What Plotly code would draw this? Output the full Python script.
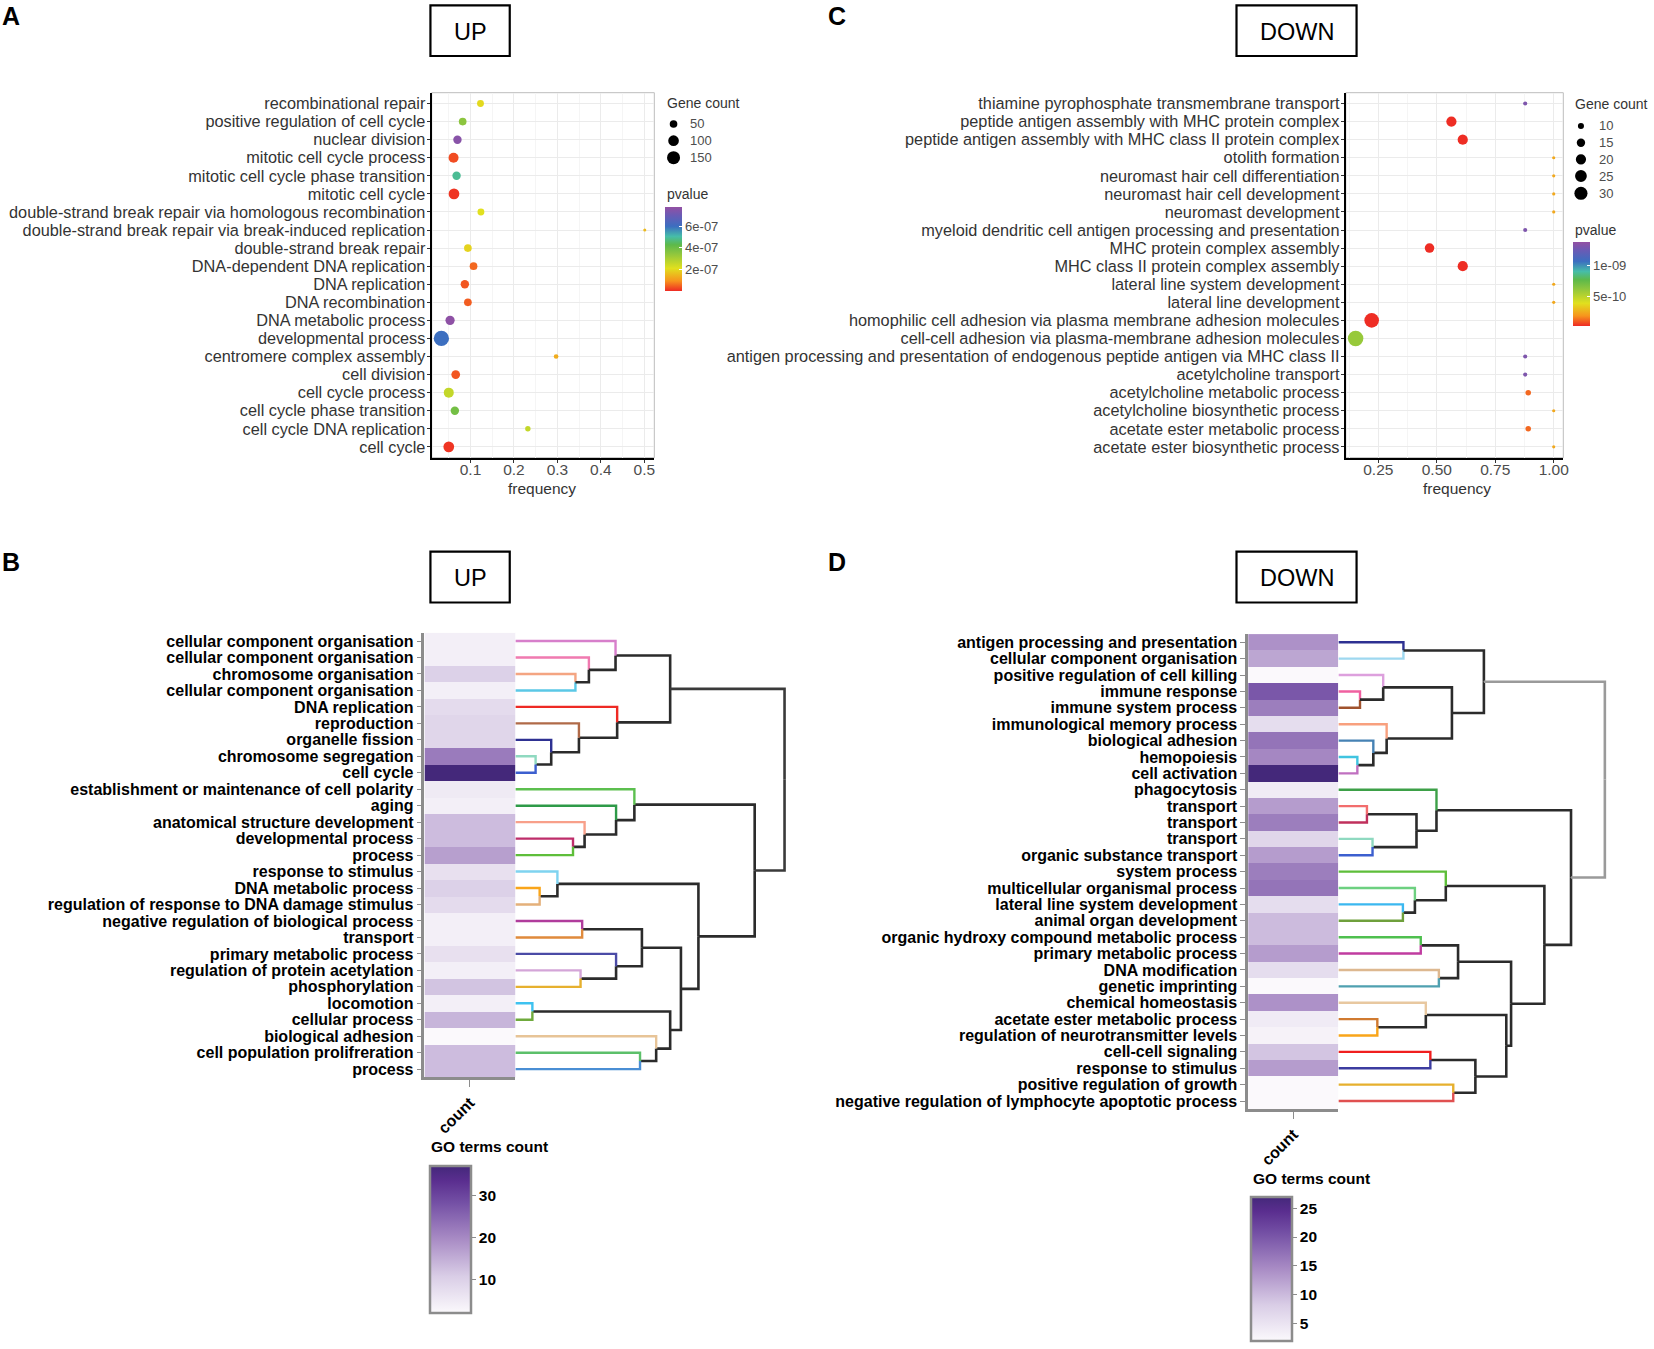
import plotly.graph_objects as go

W, H = 1654, 1349
FONT = "Liberation Sans, Arial, Helvetica, sans-serif"

# ---------------- Panel A : UP dot plot ----------------
up_terms = ["recombinational repair", "positive regulation of cell cycle", "nuclear division",
            "mitotic cell cycle process", "mitotic cell cycle phase transition", "mitotic cell cycle",
            "double-strand break repair via homologous recombination",
            "double-strand break repair via break-induced replication",
            "double-strand break repair", "DNA-dependent DNA replication", "DNA replication",
            "DNA recombination", "DNA metabolic process", "developmental process",
            "centromere complex assembly", "cell division", "cell cycle process",
            "cell cycle phase transition", "cell cycle DNA replication", "cell cycle"]
up_freq = [0.123, 0.082, 0.070, 0.061, 0.068, 0.062, 0.124, 0.501, 0.094, 0.107,
           0.087, 0.094, 0.053, 0.033, 0.297, 0.066, 0.050, 0.064, 0.232, 0.050]
up_count = [40, 51, 61, 88, 61, 101, 40, 6, 51, 51, 61, 51, 74, 208, 17, 66, 88, 61, 24, 101]
up_pvalue = [2.0e-7, 3.5e-7, 7.6e-7, 3e-8, 4.9e-7, 1e-8, 2.1e-7, 1.5e-7, 1.9e-7, 5.5e-8,
             4e-8, 4.5e-8, 7.7e-7, 6.0e-7, 1.3e-7, 4e-8, 2.6e-7, 3.9e-7, 2.6e-7, 1e-8]
up_freq_ticks = [0.1, 0.2, 0.3, 0.4, 0.5]
up_freq_ticktext = ["0.1", "0.2", "0.3", "0.4", "0.5"]
up_size_breaks = [50, 100, 150]
up_p_ticks = [2e-7, 4e-7, 6e-7]
up_p_ticktext = ["2e-07", "4e-07", "6e-07"]

# ---------------- Panel C : DOWN dot plot ----------------
down_terms = ["thiamine pyrophosphate transmembrane transport",
              "peptide antigen assembly with MHC protein complex",
              "peptide antigen assembly with MHC class II protein complex",
              "otolith formation", "neuromast hair cell differentiation",
              "neuromast hair cell development", "neuromast development",
              "myeloid dendritic cell antigen processing and presentation",
              "MHC protein complex assembly", "MHC class II protein complex assembly",
              "lateral line system development", "lateral line development",
              "homophilic cell adhesion via plasma membrane adhesion molecules",
              "cell-cell adhesion via plasma-membrane adhesion molecules",
              "antigen processing and presentation of endogenous peptide antigen via MHC class II",
              "acetylcholine transport", "acetylcholine metabolic process",
              "acetylcholine biosynthetic process", "acetate ester metabolic process",
              "acetate ester biosynthetic process"]
down_freq = [0.878, 0.5625, 0.611, 1.0, 1.0, 1.0, 1.0, 0.878, 0.469, 0.611,
             1.0, 1.0, 0.2216, 0.153, 0.878, 0.878, 0.891, 1.0, 0.891, 1.0]
down_count = [7, 20, 20, 6, 6, 6, 6, 7, 18, 20, 6, 6, 36, 40, 7, 7, 9, 6, 9, 6]
down_pvalue = [1.3e-9, 2e-11, 2e-11, 2.3e-10, 2.3e-10, 2.3e-10, 2.3e-10, 1.3e-9, 2e-11, 2e-11,
               2.3e-10, 2.3e-10, 2e-11, 5.9e-10, 1.3e-9, 1.3e-9, 1.1e-10, 2.3e-10, 1.1e-10, 2.3e-10]
down_freq_ticks = [0.25, 0.50, 0.75, 1.00]
down_freq_ticktext = ["0.25", "0.50", "0.75", "1.00"]
down_size_breaks = [10, 15, 20, 25, 30]
down_p_ticks = [5e-10, 1e-9]
down_p_ticktext = ["5e-10", "1e-09"]

# ---------------- Panel B : UP GO heatmap + dendrogram ----------------
up_go_terms = ["cellular component organisation", "cellular component organisation",
               "chromosome organisation", "cellular component organisation", "DNA replication",
               "reproduction", "organelle fission", "chromosome segregation", "cell cycle",
               "establishment or maintenance of cell polarity", "aging",
               "anatomical structure development", "developmental process", "process",
               "response to stimulus", "DNA metabolic process",
               "regulation of response to DNA damage stimulus",
               "negative regulation of biological process", "transport",
               "primary metabolic process", "regulation of protein acetylation",
               "phosphorylation", "locomotion", "cellular process", "biological adhesion",
               "cell population prolifreration", "process"]
up_go_count = [4, 4, 10, 4, 8, 9, 9, 22, 37, 5, 4, 13, 13, 17, 7, 10, 8, 4, 4, 7, 4, 12, 4, 14, 2, 13, 13]
up_go_ticks = [10, 20, 30]
# merges: (child a, child b, height); leaves 0..26, clusters 27.. in order
up_merges = [(2, 3, 0.223), (1, 27, 0.273), (0, 28, 0.372), (7, 8, 0.075), (6, 30, 0.133),
             (5, 31, 0.236), (4, 32, 0.378), (29, 33, 0.575), (12, 13, 0.214), (11, 35, 0.257),
             (10, 36, 0.374), (9, 37, 0.442), (15, 16, 0.090), (14, 39, 0.156), (17, 18, 0.248),
             (20, 21, 0.242), (19, 42, 0.374), (41, 43, 0.470), (22, 23, 0.063), (25, 26, 0.463),
             (24, 46, 0.523), (45, 47, 0.575), (44, 48, 0.615), (40, 49, 0.680), (38, 50, 0.889),
             (34, 51, 1.0)]
up_leaf_colors = ["#D77FCB", "#F07AB0", "#F4A582", "#5BC8E6", "#EE2A24", "#B06A48", "#2E3192",
                  "#8FD9C0", "#3C5FCF", "#5CBF4F", "#2E9A48", "#F8A08A", "#BE2D6A", "#5EBE3A",
                  "#7FD3F0", "#F9A51A", "#E4B07A", "#B03C9C", "#E08A3C", "#4B4BA6", "#D4A5D8",
                  "#E6B02E", "#3EC2F0", "#6FAA3C", "#E7C497", "#5CC06A", "#4A8ED4"]

# ---------------- Panel D : DOWN GO heatmap + dendrogram ----------------
down_go_terms = ["antigen processing and presentation", "cellular component organisation",
                 "positive regulation of cell killing", "immune response", "immune system process",
                 "immunological memory process", "biological adhesion", "hemopoiesis",
                 "cell activation", "phagocytosis", "transport", "transport", "transport",
                 "organic substance transport", "system process", "multicellular organismal process",
                 "lateral line system development", "animal organ development",
                 "organic hydroxy compound metabolic process", "primary metabolic process",
                 "DNA modification", "genetic imprinting", "chemical homeostasis",
                 "acetate ester metabolic process", "regulation of neurotransmitter levels",
                 "cell-cell signaling", "response to stimulus", "positive regulation of growth",
                 "negative regulation of lymphocyte apoptotic process"]
down_go_count = [14, 12, 2, 20, 16, 6, 17, 15, 27, 4, 13, 16, 7, 13, 16, 17, 6, 10, 10, 13,
                 6, 2, 14, 4, 3, 9, 13, 2, 2]
down_go_ticks = [5, 10, 15, 20, 25]
down_merges = [(0, 1, 0.244), (3, 4, 0.081), (2, 30, 0.168), (7, 8, 0.071), (6, 32, 0.131),
               (5, 33, 0.181), (31, 34, 0.426), (29, 35, 0.546), (10, 11, 0.107), (12, 13, 0.128),
               (37, 38, 0.293), (9, 39, 0.368), (16, 17, 0.242), (15, 41, 0.287), (14, 42, 0.403),
               (18, 19, 0.309), (20, 21, 0.377), (44, 45, 0.449), (23, 24, 0.146), (22, 47, 0.328),
               (25, 26, 0.345), (27, 28, 0.431), (49, 50, 0.514), (48, 51, 0.630), (46, 52, 0.648),
               (43, 53, 0.773), (40, 54, 0.873), (36, 55, 1.0)]
down_leaf_colors = ["#2E3192", "#9ED8F0", "#DDA0DD", "#F060A0", "#A0522D", "#F8A07E", "#4682B4",
                    "#40C4E0", "#C070C0", "#3DA048", "#F26D6D", "#C0305C", "#8FD9C0", "#3C5FCF",
                    "#5EBE3A", "#6DD080", "#3BB8F0", "#6FA03C", "#4FC04F", "#C03CA0", "#DDB890",
                    "#4FA0B0", "#E8C8A0", "#D07A30", "#F9A51A", "#F01E1E", "#3C3CA0", "#E6B02E",
                    "#E05050"]

# ---------------- styles ----------------
pv_scale = [[0, "#EE2A24"], [0.12, "#F7941D"], [0.27, "#E1E01E"], [0.45, "#8BC53F"],
            [0.55, "#5DB94A"], [0.65, "#46BDA9"], [0.77, "#3C6EC0"], [0.9, "#6A5BB5"], [1, "#9350A3"]]
heat_scale = [[0, "#FBF9FC"], [0.25, "#D9CDE6"], [0.5, "#A98CC5"], [0.75, "#7450A5"],
              [0.9, "#5A2E8F"], [1, "#44287A"]]


def px_x(x):
    return x / W


def px_y(y):
    return 1 - y / H


def size_up(c):
    return 1.15 * (0.84 * c + 2) ** 0.5


def size_down(c):
    return 1.15 * max(5.1 * c - 23, 6.5) ** 0.5


fig = go.Figure()
shapes = []
annotations = []


def ann(x, y, text, size=15, color="#333333", xanchor="center", yanchor="middle", **kw):
    annotations.append(dict(x=px_x(x), y=px_y(y), xref="paper", yref="paper", text=text,
                            showarrow=False, xanchor=xanchor, yanchor=yanchor,
                            font=dict(family=FONT, size=size, color=color), **kw))


# ---- dot plots ----
def dot_panel(axn, terms, freq, count, pval, sizefn, cmin, cmax, cbx, cby, cblen, pticks, ptext):
    n = len(terms)
    fig.add_trace(go.Scatter(
        x=freq, y=list(range(n)), mode="markers", xaxis="x" + axn, yaxis="y" + axn,
        marker=dict(size=[sizefn(c) for c in count], color=pval, colorscale=pv_scale,
                    cmin=cmin, cmax=cmax, line=dict(width=0), opacity=1,
                    colorbar=dict(x=px_x(cbx), xanchor="left", xpad=0, ypad=0,
                                  y=px_y(cby), yanchor="middle", len=cblen, lenmode="pixels",
                                  thickness=16.7, thicknessmode="pixels", outlinewidth=0,
                                  tickmode="array", tickvals=pticks, ticktext=ptext,
                                  ticks="inside", ticklen=3, tickcolor="white",
                                  tickfont=dict(family=FONT, size=13, color="#4D4D4D")),
                    showscale=True),
        hoverinfo="skip", showlegend=False))


dot_panel("", up_terms, up_freq, up_count, up_pvalue, size_up, 0, 7.8e-7,
          667.3, 248.7, 84, up_p_ticks, up_p_ticktext)
dot_panel("2", down_terms, down_freq, down_count, down_pvalue, size_down, 1.5e-11, 1.37e-9,
          1579, 284.2, 83.7, down_p_ticks, down_p_ticktext)

dot_y_domain = [px_y(457.7), px_y(92.7)]


def dot_axes(xr, ticks, ticktext, minor_vals, n, xdom):
    xa = dict(domain=xdom, range=xr, tickmode="array", tickvals=ticks, ticktext=ticktext,
              showline=True, linecolor="black", linewidth=2.2, ticks="outside", ticklen=3,
              tickcolor="#333333", tickfont=dict(family=FONT, size=15.5, color="#4D4D4D"),
              ticklabelstandoff=-6,
              showgrid=True, gridcolor="#EBEBEB", gridwidth=1, zeroline=False,
              minor=dict(tickmode="array", tickvals=minor_vals, showgrid=True,
                         gridcolor="#F5F5F5", gridwidth=1, ticks=""))
    ya = dict(domain=dot_y_domain, range=[n - 1 + 0.6, -0.6], tickmode="array",
              tickvals=list(range(n)), showline=True, linecolor="black", linewidth=2.2,
              ticks="outside", ticklen=3, tickcolor="#333333", ticklabelstandoff=-2,
              tickfont=dict(family=FONT, size=16.3, color="#333333"),
              showgrid=True, gridcolor="#EBEBEB", gridwidth=1, zeroline=False)
    return xa, ya


xa1, ya1 = dot_axes([0.0108, 0.523], up_freq_ticks, up_freq_ticktext,
                    [0.05, 0.15, 0.25, 0.35, 0.45], len(up_terms), [px_x(433.3), px_x(656.7)])
ya1["ticktext"] = up_terms
ya1["anchor"] = "x"
xa1["anchor"] = "y"
xa2, ya2 = dot_axes([0.111, 1.041], down_freq_ticks, down_freq_ticktext,
                    [0.125, 0.375, 0.625, 0.875], len(down_terms), [px_x(1350.7), px_x(1569)])
ya2["ticktext"] = down_terms
ya2["anchor"] = "x2"
xa2["anchor"] = "y2"

for axn in ["", "2"]:
    shapes.append(dict(type="rect", xref="x" + axn + " domain", yref="y" + axn + " domain",
                       x0=0, x1=1, y0=0, y1=1, line=dict(color="#BDBDBD", width=1), layer="below"))

ann(544, 488, "frequency", size=15.5)
ann(1462, 488, "frequency", size=15.5)


# size legends
def size_legend(x_title, y_title, cx, ys, breaks, sizefn, label_x, p_title_y):
    ann(x_title, y_title, "Gene count", size=14, xanchor="left")
    for b, yy in zip(breaks, ys):
        r = sizefn(b) / 2
        shapes.append(dict(type="circle", xref="paper", yref="paper", xsizemode="pixel",
                           ysizemode="pixel", xanchor=px_x(cx), yanchor=px_y(yy),
                           x0=-r, x1=r, y0=-r, y1=r, fillcolor="black", line=dict(width=0)))
        ann(label_x, yy, str(b), size=13, color="#4D4D4D", xanchor="left")
    ann(x_title, p_title_y, "pvalue", size=14, xanchor="left")


size_legend(667.3, 103.3, 676, [124, 140.7, 157.7], up_size_breaks, size_up, 690.7, 194.3)
size_legend(1579, 104, 1586.7, [126, 142.7, 159.3, 176, 193.3], down_size_breaks, size_down,
            1603.3, 230)


# ---- heatmaps + dendrograms ----
def dendro_traces(n, merges, leaf_colors, xa, ya, root_color):
    ypos = list(range(n))
    hts = [0.0] * n
    lines = {}
    last = len(merges) - 1
    for k, (a, b, h) in enumerate(merges):
        ym = (ypos[a] + ypos[b]) / 2
        for c in (a, b):
            if c < n:
                key = leaf_colors[c]
            elif k == last:
                key = root_color
            else:
                key = "#2B2B2B"
            xs, ys = lines.setdefault(key, ([], []))
            xs += [hts[c], h, h, None]
            ys += [ypos[c], ypos[c], ym, None]
        ypos.append(ym)
        hts.append(h)
    for key, (xs, ys) in lines.items():
        is_leaf = key in leaf_colors
        fig.add_trace(go.Scatter(x=xs, y=ys, mode="lines", xaxis=xa, yaxis=ya,
                                 line=dict(color=key, width=2.4 if is_leaf else 2.6),
                                 hoverinfo="skip", showlegend=False))


def heat_panel(terms, counts, ticks, xa, ya, xdom, ydom, cbx, cbtop, cblen):
    n = len(terms)
    fig.add_trace(go.Heatmap(
        z=[[v] for v in counts], x=["count"], y=list(range(n)), xaxis=xa, yaxis=ya,
        colorscale=heat_scale, zmin=min(counts), zmax=max(counts), hoverinfo="skip",
        colorbar=dict(x=px_x(cbx), xanchor="left", xpad=0, ypad=0, y=px_y(cbtop), yanchor="top",
                      len=cblen, lenmode="pixels", thickness=41, thicknessmode="pixels",
                      outlinecolor="#8C8C8C", outlinewidth=2.5, tickmode="array",
                      tickvals=ticks, ticktext=["<b>%d</b>" % t for t in ticks],
                      ticks="outside", ticklen=4, tickcolor="#8C8C8C",
                      tickfont=dict(family=FONT, size=15.5, color="black"))))
    xax = dict(domain=xdom, anchor=ya, range=[-0.5, 0.5], type="category",
               showline=True, linecolor="#8C8C8C", linewidth=2.5, ticks="outside", ticklen=7,
               tickcolor="#8C8C8C", tickangle=-45, tickmode="array", tickvals=["count"],
               ticktext=["<b>count</b>"], tickfont=dict(family=FONT, size=16, color="black"),
               showgrid=False, zeroline=False)
    yax = dict(domain=ydom, anchor=xa, range=[n - 0.5, -0.5], tickmode="array",
               tickvals=list(range(n)), ticktext=["<b>%s</b>" % t for t in terms],
               showline=True, linecolor="#8C8C8C", linewidth=2.5, ticks="outside", ticklen=5,
               tickcolor="#8C8C8C", tickfont=dict(family=FONT, size=16, color="black"),
               showgrid=False, zeroline=False)
    return xax, yax


hb_ydom = [px_y(1077.4), px_y(632.8)]
xa3, ya3 = heat_panel(up_go_terms, up_go_count, up_go_ticks, "x3", "y3",
                      [px_x(426), px_x(517.3)], hb_ydom, 431.7, 1165.7, 146.6)
dendro_traces(len(up_go_terms), up_merges, up_leaf_colors, "x4", "y4", "#3A3A3A")
xa4 = dict(domain=[px_x(517.3), px_x(517.3 + 270.1 * 1.02)], range=[0, 1.02], visible=False,
           anchor="y4")
ya4 = dict(domain=hb_ydom, range=[len(up_go_terms) - 0.5, -0.5], visible=False, anchor="x4")

hd_ydom = [px_y(1109.2), px_y(634.1)]
xa5, ya5 = heat_panel(down_go_terms, down_go_count, down_go_ticks, "x5", "y5",
                      [px_x(1252.7), px_x(1343.3)], hd_ydom, 1256, 1196.7, 144)
dendro_traces(len(down_go_terms), down_merges, down_leaf_colors, "x6", "y6", "#9A9A9A")
xa6 = dict(domain=[px_x(1343.3), px_x(1343.3 + 267.4 * 1.02)], range=[0, 1.02], visible=False,
           anchor="y6")
ya6 = dict(domain=hd_ydom, range=[len(down_go_terms) - 0.5, -0.5], visible=False, anchor="x6")

ann(491.7, 1146.7, "<b>GO terms count</b>", size=15.5, color="black")
ann(1256, 1178.3, "<b>GO terms count</b>", size=15.5, color="black", xanchor="left")

# ---- panel letters and title boxes ----
for letter, x, y in [("A", 11, 16), ("C", 840, 16), ("B", 11, 562), ("D", 840, 562)]:
    ann(x, y, "<b>%s</b>" % letter, size=25, color="black")

for label, x0, x1, y0, y1 in [("UP", 432, 511.6, 5.3, 56), ("DOWN", 1241, 1361.5, 5.3, 56),
                              ("UP", 432, 511.6, 551.7, 602.5), ("DOWN", 1241, 1361.5, 551.7, 602.5)]:
    shapes.append(dict(type="rect", xref="paper", yref="paper", x0=px_x(x0), x1=px_x(x1),
                       y0=px_y(y1), y1=px_y(y0), line=dict(color="black", width=2.2)))
    ann((x0 + x1) / 2, (y0 + y1) / 2 + 1, label, size=23.5, color="black")

fig.update_layout(
    width=W, height=H, margin=dict(l=0, r=0, t=0, b=0),
    paper_bgcolor="white", plot_bgcolor="white", showlegend=False,
    font=dict(family=FONT),
    xaxis=xa1, yaxis=ya1, xaxis2=xa2, yaxis2=ya2,
    xaxis3=xa3, yaxis3=ya3, xaxis4=xa4, yaxis4=ya4,
    xaxis5=xa5, yaxis5=ya5, xaxis6=xa6, yaxis6=ya6,
    shapes=shapes, annotations=annotations,
)

# remove the default page margin so the figure fills the window from its top-left corner
fig.write_html("out.html", config={"displayModeBar": False},
               post_script="document.body.style.margin='0';document.body.style.overflow='hidden';")
